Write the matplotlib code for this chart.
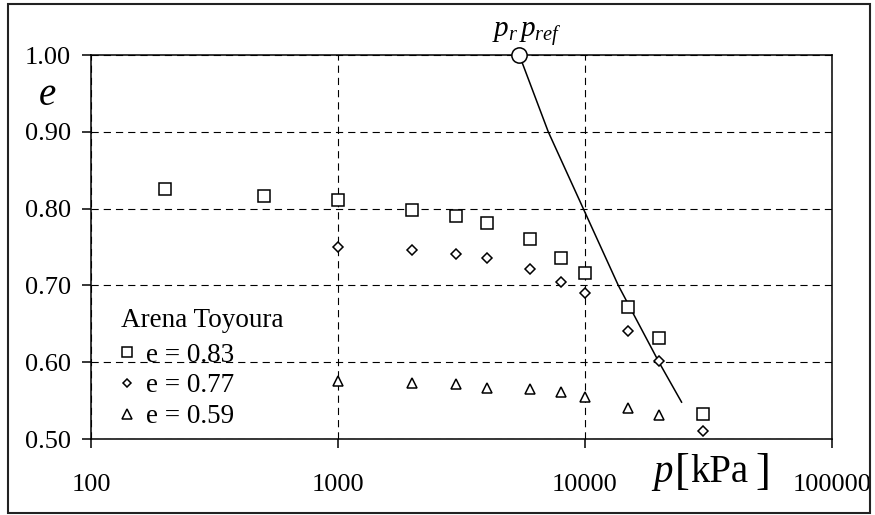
import matplotlib
matplotlib.use("Agg")
import matplotlib.pyplot as plt
from matplotlib.patches import Rectangle
from matplotlib.ticker import NullLocator

plt.rcParams['font.family'] = ['Liberation Serif', 'DejaVu Serif']
plt.rcParams['mathtext.fontset'] = 'custom'
plt.rcParams['mathtext.rm'] = 'Liberation Serif'
plt.rcParams['mathtext.it'] = 'Liberation Serif:italic'

# e = 0.83
p_a = [200, 500, 1000, 2000, 3000, 4000, 6000, 8000, 10000, 15000, 20000, 30000]
e_a = [0.825, 0.817, 0.811, 0.798, 0.790, 0.781, 0.761, 0.736, 0.716, 0.672, 0.632, 0.532]
# e = 0.77
p_b = [1000, 2000, 3000, 4000, 6000, 8000, 10000, 15000, 20000, 30000]
e_b = [0.750, 0.746, 0.741, 0.736, 0.721, 0.705, 0.690, 0.641, 0.602, 0.511]
# e = 0.59
p_c = [1000, 2000, 3000, 4000, 6000, 8000, 10000, 15000, 20000]
e_c = [0.576, 0.573, 0.571, 0.566, 0.565, 0.561, 0.555, 0.540, 0.531]
# fitted line through the reference point
p_fit = [5420, 7100, 9840, 13640, 19930, 24600]
e_fit = [1.000, 0.900, 0.800, 0.700, 0.600, 0.548]
p_ref = [5420]
e_ref = [1.00]

labels = ['e = 0.83', 'e = 0.77', 'e = 0.59']
x_ticks = [100, 1000, 10000, 100000]
y_ticks = [0.50, 0.60, 0.70, 0.80, 0.90, 1.00]

W, H = 875, 515


def fx(px):
    return px / W


def fy(py):
    return 1 - py / H


fig = plt.figure(figsize=(W / 100, H / 100), dpi=100)
ax = fig.add_axes([fx(91), fy(439), 741 / W, 384 / H])

mk = dict(mfc='white', mec='black', mew=1.1, ls='none', clip_on=False, zorder=4)
h1, = ax.plot(p_a, e_a, marker='s', ms=8, label=labels[0], **mk)
h2, = ax.plot(p_b, e_b, marker='D', ms=4.8, label=labels[1], **mk)
h3, = ax.plot(p_c, e_c, marker='^', ms=7.5, label=labels[2], **mk)
ax.plot(p_fit, e_fit, color='black', lw=1.1, zorder=3)
ax.plot(p_ref, e_ref, marker='o', ms=11, **mk)

ax.set_xscale('log')
ax.set_xlim(100, 100000)
ax.set_ylim(0.5, 1.0)
ax.set_xticks(x_ticks)
ax.set_xticklabels([str(t) for t in x_ticks])
ax.xaxis.set_minor_locator(NullLocator())
ax.set_yticks(y_ticks)
ax.set_yticklabels([f'{v:.2f}' for v in y_ticks])
ax.tick_params(direction='out', length=6.5, width=1.1, labelsize=19)
ax.tick_params(axis='x', pad=19)
ax.tick_params(axis='y', pad=8)
ax.grid(True, color='black', lw=0.8, linestyle=(0, (6.5, 4.5)))
for s in ax.spines.values():
    s.set_linewidth(1.1)

ax.legend(handles=[h1, h2, h3], loc='upper left',
          bbox_to_anchor=(0.036, 0.251), frameon=False, fontsize=19.5,
          handlelength=0.7, handletextpad=0.35,
          labelspacing=0.21, borderpad=0, borderaxespad=0, markerscale=0.9)

fig.text(fx(121), fy(327), 'Arena Toyoura', fontsize=19.5, ha='left', va='baseline')
fig.text(fx(47), fy(105), 'e', style='italic', fontsize=28, ha='center', va='baseline')
fig.text(fx(527), fy(37), r'$p_r\,p_{ref}$', fontsize=21, ha='center', va='baseline')
fig.text(fx(653), fy(482), 'p', style='italic', fontsize=28, ha='left', va='baseline')
fig.text(fx(690), fy(484), '[', fontsize=32, ha='right', va='baseline')
fig.text(fx(690), fy(482), 'kPa', fontsize=28, ha='left', va='baseline')
fig.text(fx(755), fy(484), ']', fontsize=32, ha='left', va='baseline')

fig.patches.append(Rectangle((fx(8), fy(513)), (870 - 8) / W, (513 - 4) / H,
                             transform=fig.transFigure, fill=False, lw=1.5, ec='#222222'))

fig.savefig('out.png', dpi=100)
